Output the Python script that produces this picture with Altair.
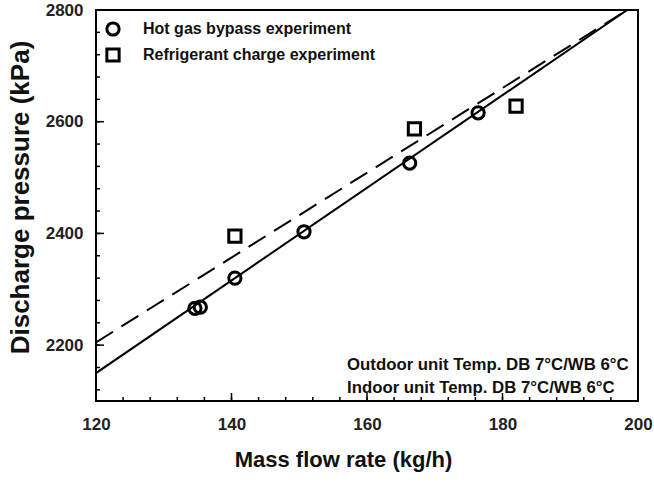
import altair as alt
import pandas as pd

# Measured points
hot_gas_flow = [134.6, 135.4, 140.5, 150.7, 166.3, 176.4]
hot_gas_pressure = [2266, 2268, 2320, 2403, 2526, 2616]
charge_flow = [140.5, 167.0, 182.0]
charge_pressure = [2395, 2587, 2628]

# Fitted trend lines (end points)
fit_flow = [120.0, 198.4]
fit_hot_gas = [2150, 2800]
fit_charge = [2205, 2800]

series_names = ["Hot gas bypass experiment", "Refrigerant charge experiment"]

# Axis ticks
x_major = [120, 140, 160, 180, 200]
x_minor = list(range(120, 201, 4))
y_major = [2200, 2400, 2600, 2800]
y_minor = list(range(2120, 2801, 40))

FONT = "Liberation Sans"
W, H = 542, 391

points = pd.DataFrame({
    "flow": hot_gas_flow + charge_flow,
    "pressure": hot_gas_pressure + charge_pressure,
    "series": [series_names[0]] * len(hot_gas_flow) + [series_names[1]] * len(charge_flow),
})
fits = pd.DataFrame({
    "flow": fit_flow * 2,
    "pressure": fit_hot_gas + fit_charge,
    "fit": ["hot"] * 2 + ["charge"] * 2,
})

xs = alt.Scale(domain=[120, 200], nice=False, zero=False)
ys = alt.Scale(domain=[2100, 2800], nice=False, zero=False)

x_axis = alt.Axis(values=x_major, format="d", ticks=False, domain=False, grid=False,
                  labelFlush=False, labelOverlap=False,
                  labelFont=FONT, labelFontSize=17, labelFontWeight="bold",
                  labelPadding=15, labelColor="#222",
                  title="Mass flow rate (kg/h)", titleFont=FONT, titleFontSize=22,
                  titleFontWeight="bold", titleColor="#111",
                  titleX=247, titleY=65, titleBaseline="alphabetic")
y_axis = alt.Axis(values=y_major, format="d", ticks=False, domain=False, grid=False,
                  labelFlush=False, labelOverlap=False,
                  labelFont=FONT, labelFontSize=17, labelFontWeight="bold",
                  labelPadding=13, labelColor="#222",
                  title="Discharge pressure (kPa)", titleFont=FONT, titleFontSize=26,
                  titleFontWeight="bold", titleColor="#111",
                  titleX=-68, titleY=187, titleBaseline="alphabetic")

base = alt.Chart(points)

pts = base.mark_point(filled=False, color="black", strokeWidth=3, size=150, opacity=1).encode(
    x=alt.X("flow:Q", scale=xs, axis=x_axis),
    y=alt.Y("pressure:Q", scale=ys, axis=y_axis),
    shape=alt.Shape("series:N",
                    scale=alt.Scale(domain=series_names, range=["circle", "square"]),
                    legend=alt.Legend(title=None, orient="none", legendX=9, legendY=11,
                                      labelFont=FONT, labelFontSize=16, labelFontWeight="bold",
                                      labelColor="#111", labelOffset=22, rowPadding=0,
                                      labelLimit=0,
                                      symbolSize=150, symbolStrokeWidth=3,
                                      symbolStrokeColor="black", symbolFillColor="white",
                                      padding=0)),
)

solid = alt.Chart(fits[fits["fit"] == "hot"]).mark_line(
    color="black", strokeWidth=2, clip=True
).encode(x=alt.X("flow:Q", scale=xs), y=alt.Y("pressure:Q", scale=ys))

dashed = alt.Chart(fits[fits["fit"] == "charge"]).mark_line(
    color="black", strokeWidth=2, strokeDash=[20, 10], clip=True
).encode(x=alt.X("flow:Q", scale=xs), y=alt.Y("pressure:Q", scale=ys))

# Inward tick marks on the bottom and left sides
xt_minor = alt.Chart(pd.DataFrame({"v": x_minor})).mark_rule(color="black", strokeWidth=1.5).encode(
    x=alt.X("v:Q", scale=xs), y=alt.value(H), y2=alt.value(H - 4))
xt_major = alt.Chart(pd.DataFrame({"v": x_major})).mark_rule(color="black", strokeWidth=1.5).encode(
    x=alt.X("v:Q", scale=xs), y=alt.value(H), y2=alt.value(H - 8))
yt_minor = alt.Chart(pd.DataFrame({"v": y_minor})).mark_rule(color="black", strokeWidth=1.5).encode(
    y=alt.Y("v:Q", scale=ys), x=alt.value(0), x2=alt.value(4))
yt_major = alt.Chart(pd.DataFrame({"v": y_major})).mark_rule(color="black", strokeWidth=1.5).encode(
    y=alt.Y("v:Q", scale=ys), x=alt.value(0), x2=alt.value(8))

note = alt.Chart(pd.DataFrame({"t": ["Outdoor unit Temp. DB 7°C/WB 6°C\nIndoor unit Temp. DB 7°C/WB 6°C"]})).mark_text(
    font=FONT, fontSize=16.8, fontWeight="bold", color="#111", align="left", baseline="middle",
    lineBreak="\n", lineHeight=23
).encode(text="t:N", x=alt.value(251), y=alt.value(355))

chart = alt.layer(xt_minor, xt_major, yt_minor, yt_major, solid, dashed, pts, note).properties(
    width=W, height=H,
    autosize=alt.AutoSizeParams(type="none"),
    padding={"left": 96, "top": 10, "right": 16, "bottom": 89},
    background="white",
).configure_view(stroke="black", strokeWidth=2)

chart.save("out.html", embed_options={"renderer": "svg", "actions": False})
